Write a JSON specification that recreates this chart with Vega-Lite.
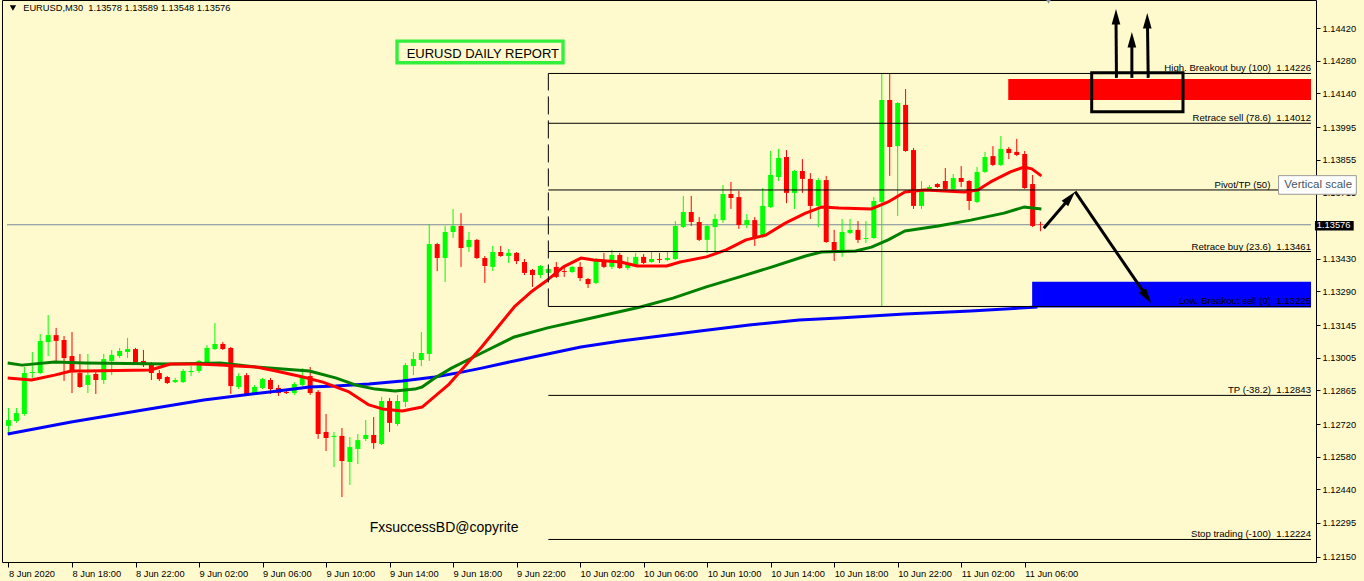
{
  "$schema": "https://vega.github.io/schema/vega-lite/v6.json",
  "width": 1314,
  "height": 562,
  "autosize": {"type": "none"},
  "padding": {"left": 2, "top": 0, "right": 48, "bottom": 19},
  "background": "#fffacd",
  "config": {"view": {"stroke": "#000000", "strokeWidth": 1}},
  "resolve": {"axis": {"x": "independent", "y": "independent"}},
  "datasets": {
    "candles": [
      {"i":0,"o":1.12712,"h":1.12789,"l":1.12677,"c":1.12737},
      {"i":1,"o":1.12733,"h":1.12789,"l":1.12725,"c":1.12767},
      {"i":2,"o":1.12763,"h":1.12965,"l":1.12755,"c":1.12939},
      {"i":3,"o":1.12939,"h":1.13029,"l":1.12918,"c":1.12943},
      {"i":4,"o":1.12939,"h":1.13107,"l":1.12935,"c":1.13077},
      {"i":5,"o":1.13072,"h":1.13188,"l":1.13012,"c":1.13102},
      {"i":6,"o":1.13102,"h":1.13133,"l":1.12986,"c":1.13077},
      {"i":7,"o":1.13081,"h":1.13098,"l":1.12905,"c":1.13004},
      {"i":8,"o":1.13012,"h":1.13115,"l":1.12853,"c":1.12943},
      {"i":9,"o":1.12939,"h":1.13021,"l":1.12875,"c":1.12879},
      {"i":10,"o":1.12888,"h":1.13021,"l":1.12853,"c":1.12930},
      {"i":11,"o":1.12935,"h":1.12943,"l":1.12849,"c":1.12909},
      {"i":12,"o":1.12909,"h":1.13021,"l":1.12892,"c":1.12999},
      {"i":13,"o":1.12991,"h":1.13038,"l":1.12930,"c":1.13017},
      {"i":14,"o":1.13012,"h":1.13047,"l":1.13004,"c":1.13034},
      {"i":15,"o":1.13029,"h":1.13090,"l":1.13004,"c":1.13042},
      {"i":16,"o":1.13042,"h":1.13047,"l":1.12978,"c":1.12982},
      {"i":17,"o":1.12991,"h":1.13038,"l":1.12965,"c":1.12973},
      {"i":18,"o":1.12978,"h":1.12986,"l":1.12909,"c":1.12939},
      {"i":19,"o":1.12939,"h":1.12952,"l":1.12905,"c":1.12913},
      {"i":20,"o":1.12922,"h":1.12926,"l":1.12892,"c":1.12896},
      {"i":21,"o":1.12900,"h":1.12918,"l":1.12896,"c":1.12909},
      {"i":22,"o":1.12900,"h":1.12956,"l":1.12896,"c":1.12948},
      {"i":23,"o":1.12943,"h":1.12969,"l":1.12926,"c":1.12948},
      {"i":24,"o":1.12948,"h":1.12995,"l":1.12939,"c":1.12991},
      {"i":25,"o":1.12986,"h":1.13059,"l":1.12982,"c":1.13047},
      {"i":26,"o":1.13042,"h":1.13154,"l":1.13038,"c":1.13064},
      {"i":27,"o":1.13064,"h":1.13072,"l":1.13038,"c":1.13042},
      {"i":28,"o":1.13047,"h":1.13051,"l":1.12849,"c":1.12883},
      {"i":29,"o":1.12879,"h":1.12939,"l":1.12870,"c":1.12926},
      {"i":30,"o":1.12930,"h":1.12939,"l":1.12845,"c":1.12849},
      {"i":31,"o":1.12853,"h":1.12888,"l":1.12849,"c":1.12879},
      {"i":32,"o":1.12875,"h":1.12918,"l":1.12870,"c":1.12913},
      {"i":33,"o":1.12909,"h":1.12918,"l":1.12849,"c":1.12870},
      {"i":34,"o":1.12875,"h":1.12888,"l":1.12840,"c":1.12853},
      {"i":35,"o":1.12858,"h":1.12866,"l":1.12849,"c":1.12853},
      {"i":36,"o":1.12853,"h":1.12900,"l":1.12845,"c":1.12892},
      {"i":37,"o":1.12888,"h":1.12960,"l":1.12883,"c":1.12922},
      {"i":38,"o":1.12926,"h":1.12965,"l":1.12845,"c":1.12853},
      {"i":39,"o":1.12858,"h":1.12866,"l":1.12656,"c":1.12677},
      {"i":40,"o":1.12686,"h":1.12763,"l":1.12604,"c":1.12660},
      {"i":41,"o":1.12664,"h":1.12686,"l":1.12535,"c":1.12669},
      {"i":42,"o":1.12669,"h":1.12703,"l":1.12406,"c":1.12561},
      {"i":43,"o":1.12557,"h":1.12664,"l":1.12458,"c":1.12621},
      {"i":44,"o":1.12613,"h":1.12677,"l":1.12548,"c":1.12651},
      {"i":45,"o":1.12656,"h":1.12737,"l":1.12647,"c":1.12673},
      {"i":46,"o":1.12673,"h":1.12750,"l":1.12613,"c":1.12638},
      {"i":47,"o":1.12634,"h":1.12836,"l":1.12630,"c":1.12819},
      {"i":48,"o":1.12819,"h":1.12832,"l":1.12686,"c":1.12725},
      {"i":49,"o":1.12720,"h":1.12845,"l":1.12712,"c":1.12819},
      {"i":50,"o":1.12815,"h":1.12982,"l":1.12793,"c":1.12973},
      {"i":51,"o":1.12969,"h":1.13029,"l":1.12930,"c":1.12999},
      {"i":52,"o":1.12995,"h":1.13115,"l":1.12969,"c":1.13025},
      {"i":53,"o":1.13021,"h":1.13579,"l":1.12991,"c":1.13493},
      {"i":54,"o":1.13493,"h":1.13498,"l":1.13377,"c":1.13433},
      {"i":55,"o":1.13433,"h":1.13571,"l":1.13330,"c":1.13545},
      {"i":56,"o":1.13545,"h":1.13644,"l":1.13519,"c":1.13571},
      {"i":57,"o":1.13571,"h":1.13626,"l":1.13395,"c":1.13476},
      {"i":58,"o":1.13480,"h":1.13545,"l":1.13459,"c":1.13511},
      {"i":59,"o":1.13511,"h":1.13515,"l":1.13429,"c":1.13433},
      {"i":60,"o":1.13433,"h":1.13442,"l":1.13326,"c":1.13399},
      {"i":61,"o":1.13395,"h":1.13485,"l":1.13377,"c":1.13459},
      {"i":62,"o":1.13459,"h":1.13485,"l":1.13438,"c":1.13442},
      {"i":63,"o":1.13442,"h":1.13472,"l":1.13412,"c":1.13455},
      {"i":64,"o":1.13455,"h":1.13459,"l":1.13407,"c":1.13420},
      {"i":65,"o":1.13416,"h":1.13429,"l":1.13360,"c":1.13369},
      {"i":66,"o":1.13382,"h":1.13386,"l":1.13309,"c":1.13360},
      {"i":67,"o":1.13360,"h":1.13403,"l":1.13347,"c":1.13399},
      {"i":68,"o":1.13369,"h":1.13390,"l":1.13360,"c":1.13386},
      {"i":69,"o":1.13395,"h":1.13416,"l":1.13347,"c":1.13352},
      {"i":70,"o":1.13377,"h":1.13395,"l":1.13352,"c":1.13373},
      {"i":71,"o":1.13373,"h":1.13399,"l":1.13369,"c":1.13395},
      {"i":72,"o":1.13395,"h":1.13416,"l":1.13334,"c":1.13347},
      {"i":73,"o":1.13343,"h":1.13347,"l":1.13304,"c":1.13321},
      {"i":74,"o":1.13326,"h":1.13433,"l":1.13321,"c":1.13429},
      {"i":75,"o":1.13416,"h":1.13455,"l":1.13390,"c":1.13395},
      {"i":76,"o":1.13395,"h":1.13468,"l":1.13386,"c":1.13446},
      {"i":77,"o":1.13446,"h":1.13455,"l":1.13386,"c":1.13390},
      {"i":78,"o":1.13390,"h":1.13438,"l":1.13382,"c":1.13407},
      {"i":79,"o":1.13403,"h":1.13455,"l":1.13399,"c":1.13438},
      {"i":80,"o":1.13438,"h":1.13450,"l":1.13407,"c":1.13412},
      {"i":81,"o":1.13416,"h":1.13463,"l":1.13412,"c":1.13429},
      {"i":82,"o":1.13429,"h":1.13455,"l":1.13412,"c":1.13425},
      {"i":83,"o":1.13425,"h":1.13459,"l":1.13420,"c":1.13433},
      {"i":84,"o":1.13429,"h":1.13592,"l":1.13425,"c":1.13571},
      {"i":85,"o":1.13566,"h":1.13700,"l":1.13562,"c":1.13631},
      {"i":86,"o":1.13631,"h":1.13700,"l":1.13571,"c":1.13588},
      {"i":87,"o":1.13588,"h":1.13609,"l":1.13506,"c":1.13511},
      {"i":88,"o":1.13511,"h":1.13575,"l":1.13455,"c":1.13571},
      {"i":89,"o":1.13566,"h":1.13622,"l":1.13455,"c":1.13601},
      {"i":90,"o":1.13596,"h":1.13747,"l":1.13584,"c":1.13708},
      {"i":91,"o":1.13708,"h":1.13760,"l":1.13644,"c":1.13691},
      {"i":92,"o":1.13695,"h":1.13721,"l":1.13558,"c":1.13575},
      {"i":93,"o":1.13575,"h":1.13622,"l":1.13562,"c":1.13596},
      {"i":94,"o":1.13596,"h":1.13609,"l":1.13485,"c":1.13523},
      {"i":95,"o":1.13523,"h":1.13734,"l":1.13519,"c":1.13657},
      {"i":96,"o":1.13652,"h":1.13893,"l":1.13648,"c":1.13790},
      {"i":97,"o":1.13781,"h":1.13902,"l":1.13764,"c":1.13863},
      {"i":98,"o":1.13867,"h":1.13897,"l":1.13669,"c":1.13713},
      {"i":99,"o":1.13713,"h":1.13811,"l":1.13644,"c":1.13807},
      {"i":100,"o":1.13807,"h":1.13858,"l":1.13713,"c":1.13773},
      {"i":101,"o":1.13773,"h":1.13798,"l":1.13601,"c":1.13657},
      {"i":102,"o":1.13657,"h":1.13777,"l":1.13566,"c":1.13768},
      {"i":103,"o":1.13768,"h":1.13786,"l":1.13498,"c":1.13502},
      {"i":104,"o":1.13502,"h":1.13554,"l":1.13420,"c":1.13455},
      {"i":105,"o":1.13455,"h":1.13601,"l":1.13438,"c":1.13545},
      {"i":106,"o":1.13541,"h":1.13601,"l":1.13536,"c":1.13554},
      {"i":107,"o":1.13554,"h":1.13592,"l":1.13498,"c":1.13511},
      {"i":108,"o":1.13515,"h":1.13592,"l":1.13498,"c":1.13519},
      {"i":109,"o":1.13519,"h":1.13695,"l":1.13515,"c":1.13678},
      {"i":110,"o":1.13674,"h":1.14226,"l":1.13225,"c":1.14112},
      {"i":111,"o":1.14112,"h":1.14224,"l":1.13786,"c":1.13910},
      {"i":112,"o":1.13914,"h":1.14103,"l":1.13614,"c":1.14099},
      {"i":113,"o":1.14091,"h":1.14159,"l":1.13889,"c":1.13893},
      {"i":114,"o":1.13897,"h":1.13906,"l":1.13644,"c":1.13657},
      {"i":115,"o":1.13657,"h":1.13764,"l":1.13644,"c":1.13721},
      {"i":116,"o":1.13725,"h":1.13747,"l":1.13721,"c":1.13738},
      {"i":117,"o":1.13751,"h":1.13755,"l":1.13734,"c":1.13738},
      {"i":118,"o":1.13764,"h":1.13820,"l":1.13725,"c":1.13730},
      {"i":119,"o":1.13730,"h":1.13794,"l":1.13725,"c":1.13777},
      {"i":120,"o":1.13777,"h":1.13828,"l":1.13738,"c":1.13760},
      {"i":121,"o":1.13764,"h":1.13768,"l":1.13639,"c":1.13678},
      {"i":122,"o":1.13674,"h":1.13824,"l":1.13669,"c":1.13803},
      {"i":123,"o":1.13803,"h":1.13889,"l":1.13798,"c":1.13867},
      {"i":124,"o":1.13871,"h":1.13914,"l":1.13828,"c":1.13833},
      {"i":125,"o":1.13833,"h":1.13957,"l":1.13828,"c":1.13902},
      {"i":126,"o":1.13902,"h":1.13910,"l":1.13858,"c":1.13884},
      {"i":127,"o":1.13889,"h":1.13945,"l":1.13871,"c":1.13876},
      {"i":128,"o":1.13880,"h":1.13893,"l":1.13730,"c":1.13734},
      {"i":129,"o":1.13751,"h":1.13790,"l":1.13566,"c":1.13571},
      {"i":130,"o":1.13578,"h":1.13589,"l":1.13548,"c":1.13576}
    ],
    "maSlow": [
      {"i":-0.1,"v":1.12677},{"i":7.9,"v":1.12729},{"i":16.2,"v":1.12776},{"i":24.6,"v":1.12823},
      {"i":32.9,"v":1.12858},{"i":37.9,"v":1.12879},{"i":41.2,"v":1.12883},{"i":45.4,"v":1.12892},
      {"i":49.6,"v":1.12905},{"i":53.7,"v":1.12922},{"i":57.1,"v":1.12943},{"i":59.6,"v":1.12960},
      {"i":63.7,"v":1.12991},{"i":67.9,"v":1.13021},{"i":72.1,"v":1.13051},{"i":77.1,"v":1.13077},
      {"i":82.1,"v":1.13098},{"i":87.1,"v":1.13120},{"i":93.3,"v":1.13145},{"i":99.6,"v":1.13167},
      {"i":104.6,"v":1.13175},{"i":112.9,"v":1.13193},{"i":121.2,"v":1.13205},{"i":129.6,"v":1.13223}
    ],
    "maMedium": [
      {"i":-0.1,"v":1.12982},{"i":1.7,"v":1.12973},{"i":5.8,"v":1.12986},{"i":9.6,"v":1.12982},
      {"i":20.4,"v":1.12978},{"i":26.7,"v":1.12982},{"i":31.2,"v":1.12965},{"i":36.2,"v":1.12952},
      {"i":37.9,"v":1.12948},{"i":41.2,"v":1.12918},{"i":43.7,"v":1.12888},{"i":46.2,"v":1.12870},
      {"i":48.7,"v":1.12862},{"i":51.2,"v":1.12870},{"i":52.1,"v":1.12879},{"i":53.7,"v":1.12918},
      {"i":55.8,"v":1.12960},{"i":59.6,"v":1.13025},{"i":63.7,"v":1.13094},{"i":67.9,"v":1.13133},
      {"i":72.9,"v":1.13171},{"i":79.6,"v":1.13223},{"i":83.7,"v":1.13261},{"i":87.9,"v":1.13309},
      {"i":92.1,"v":1.13352},{"i":96.2,"v":1.13395},{"i":100.4,"v":1.13442},{"i":102.4,"v":1.13459},
      {"i":106.7,"v":1.13463},{"i":108.7,"v":1.13480},{"i":110.8,"v":1.13511},{"i":112.9,"v":1.13549},
      {"i":117.1,"v":1.13571},{"i":121.2,"v":1.13596},{"i":125.4,"v":1.13626},{"i":127.9,"v":1.13652},
      {"i":130.1,"v":1.13644}
    ],
    "maFast": [
      {"i":-0.1,"v":1.12918},{"i":2.9,"v":1.12909},{"i":5.8,"v":1.12930},{"i":7.9,"v":1.12948},
      {"i":9.6,"v":1.12948},{"i":17.9,"v":1.12952},{"i":20.4,"v":1.12978},{"i":23.7,"v":1.12978},
      {"i":26.7,"v":1.12973},{"i":28.7,"v":1.12969},{"i":31.2,"v":1.12965},{"i":33.7,"v":1.12948},
      {"i":37.1,"v":1.12922},{"i":39.6,"v":1.12900},{"i":42.9,"v":1.12858},{"i":45.4,"v":1.12802},
      {"i":47.1,"v":1.12785},{"i":49.6,"v":1.12776},{"i":52.1,"v":1.12793},{"i":55.4,"v":1.12888},
      {"i":59.6,"v":1.13051},{"i":63.7,"v":1.13223},{"i":65.8,"v":1.13287},{"i":67.9,"v":1.13339},
      {"i":69.9,"v":1.13395},{"i":72.1,"v":1.13433},{"i":73.7,"v":1.13425},{"i":77.1,"v":1.13416},
      {"i":79.2,"v":1.13399},{"i":82.9,"v":1.13399},{"i":84.6,"v":1.13416},{"i":87.9,"v":1.13438},
      {"i":90.4,"v":1.13468},{"i":92.9,"v":1.13511},{"i":95.4,"v":1.13532},{"i":97.9,"v":1.13584},
      {"i":100.4,"v":1.13626},{"i":102.4,"v":1.13652},{"i":104.6,"v":1.13648},{"i":108.7,"v":1.13644},
      {"i":110.8,"v":1.13674},{"i":112.9,"v":1.13717},{"i":115.4,"v":1.13725},{"i":120.4,"v":1.13717},
      {"i":122.1,"v":1.13725},{"i":123.7,"v":1.13760},{"i":126.2,"v":1.13803},{"i":127.9,"v":1.13824},
      {"i":128.9,"v":1.13816},{"i":130.1,"v":1.13786}
    ],
    "fib": [
      {"i":68,"i2":164.0625,"p":1.14226,"label":"High. Breakout buy (100)\u00a0\u00a01.14226"},
      {"i":68,"i2":164.0625,"p":1.14012,"label":"Retrace sell (78.6)\u00a0\u00a01.14012"},
      {"i":68,"i2":164.0625,"p":1.137255,"label":"Pivot/TP (50)"},
      {"i":68,"i2":164.0625,"p":1.13461,"label":"Retrace buy (23.6)\u00a0\u00a01.13461"},
      {"i":68,"i2":164.0625,"p":1.13225,"label":"Low. Breakout sell (0)\u00a0\u00a01.13225"},
      {"i":68,"i2":164.0625,"p":1.12843,"label":"TP (-38.2)\u00a0\u00a01.12843"},
      {"i":68,"i2":164.0625,"p":1.12224,"label":"Stop trading (-100)\u00a0\u00a01.12224"}
    ],
    "zones": [
      {"zone":"sell","i":125.93,"i2":164.0625,"p":1.14202,"p2":1.14112},
      {"zone":"buy","i":128.94,"i2":164.0625,"p":1.13331,"p2":1.13221}
    ],
    "shafts": [
      {"i":139.56,"p":1.14207,"i2":139.5,"p2":1.14469},
      {"i":141.5,"p":1.14207,"i2":141.5,"p2":1.14370},
      {"i":143.56,"p":1.14207,"i2":143.46,"p2":1.14451},
      {"i":130.4,"p":1.13561,"i2":133.7,"p2":1.13692},
      {"i":134.35,"p":1.13718,"i2":143.38,"p2":1.13267}
    ],
    "heads": [
      {"arrow":"up","i":139.5,"p":1.14503},
      {"arrow":"up","i":141.5,"p":1.14404},
      {"arrow":"up","i":143.44,"p":1.14486},
      {"arrow":"A","i":134.35,"p":1.13718},
      {"arrow":"B","i":143.94,"p":1.13239}
    ]
  },
  "layer": [
    {
      "data": {"values": [{"i":-0.1875,"i2":164.0625,"p":1.13576}]},
      "mark": {"type": "rule", "color": "#778899", "strokeWidth": 1},
      "encoding": {
        "x": {"field": "i", "type": "quantitative", "scale": {"domain": [-0.1875, 164.0625], "nice": false, "zero": false},
          "axis": {"orient": "bottom", "values": [0,8,16,24,32,40,48,56,64,72,80,88,96,104,112,120,128],
            "labelExpr": "['8 Jun 2020','8 Jun 18:00','8 Jun 22:00','9 Jun 02:00','9 Jun 06:00','9 Jun 10:00','9 Jun 14:00','9 Jun 18:00','9 Jun 22:00','10 Jun 02:00','10 Jun 06:00','10 Jun 10:00','10 Jun 14:00','10 Jun 18:00','10 Jun 22:00','11 Jun 02:00','11 Jun 06:00'][round(datum.value/8)]",
            "labelAlign": "left", "labelBaseline": "top", "labelPadding": 2, "tickSize": 5, "tickColor": "#000000",
            "labelColor": "#000000", "labelFont": "Liberation Sans", "labelFontSize": 9.3, "domain": false, "grid": false,
            "title": null, "labelFlush": false, "labelOverlap": false, "labelBound": false}},
        "x2": {"field": "i2"},
        "y": {"field": "p", "type": "quantitative", "scale": {"domain": [1.121272, 1.145416], "nice": false, "zero": false},
          "axis": {"orient": "right", "values": [1.1442,1.1428,1.1414,1.13995,1.13855,1.13715,1.1343,1.1329,1.13145,1.13005,1.12865,1.1272,1.1258,1.1244,1.12295,1.1215],
            "format": ".5f", "tickSize": 4, "labelPadding": 2, "labelFont": "Liberation Sans", "labelFontSize": 9.3,
            "labelColor": "#000000", "tickColor": "#000000", "domain": false, "grid": false, "title": null,
            "labelOverlap": false, "labelFlush": false, "labelBound": false}}
      }
    },
    {
      "data": {"name": "zones"},
      "mark": {"type": "rect", "strokeWidth": 0},
      "encoding": {
        "x": {"field": "i", "type": "quantitative", "scale": {"domain": [-0.1875, 164.0625], "nice": false, "zero": false}, "axis": null},
        "x2": {"field": "i2"},
        "y": {"field": "p", "type": "quantitative", "scale": {"domain": [1.121272, 1.145416], "nice": false, "zero": false}, "axis": null},
        "y2": {"field": "p2"},
        "color": {"field": "zone", "type": "nominal", "scale": {"domain": ["sell", "buy"], "range": ["#ff0000", "#0000ff"]}, "legend": null}
      }
    },
    {
      "data": {"name": "candles"},
      "mark": {"type": "rule", "strokeWidth": 1},
      "encoding": {
        "x": {"field": "i", "type": "quantitative", "scale": {"domain": [-0.1875, 164.0625], "nice": false, "zero": false}, "axis": null},
        "y": {"field": "l", "type": "quantitative", "scale": {"domain": [1.121272, 1.145416], "nice": false, "zero": false}, "axis": null},
        "y2": {"field": "h"},
        "color": {"condition": {"test": "datum.c >= datum.o", "value": "#00ff00"}, "value": "#ff0000"}
      }
    },
    {
      "data": {"name": "candles"},
      "mark": {"type": "bar", "size": 5, "strokeWidth": 0},
      "encoding": {
        "x": {"field": "i", "type": "quantitative", "scale": {"domain": [-0.1875, 164.0625], "nice": false, "zero": false}, "axis": null},
        "y": {"field": "o", "type": "quantitative", "scale": {"domain": [1.121272, 1.145416], "nice": false, "zero": false}, "axis": null},
        "y2": {"field": "c"},
        "color": {"condition": {"test": "datum.c >= datum.o", "value": "#00ff00"}, "value": "#ff0000"}
      }
    },
    {
      "data": {"name": "maSlow"},
      "mark": {"type": "line", "color": "#0000ff", "strokeWidth": 3, "strokeJoin": "round"},
      "encoding": {
        "x": {"field": "i", "type": "quantitative", "scale": {"domain": [-0.1875, 164.0625], "nice": false, "zero": false}, "axis": null},
        "y": {"field": "v", "type": "quantitative", "scale": {"domain": [1.121272, 1.145416], "nice": false, "zero": false}, "axis": null}
      }
    },
    {
      "data": {"name": "maMedium"},
      "mark": {"type": "line", "color": "#008000", "strokeWidth": 3, "strokeJoin": "round"},
      "encoding": {
        "x": {"field": "i", "type": "quantitative", "scale": {"domain": [-0.1875, 164.0625], "nice": false, "zero": false}, "axis": null},
        "y": {"field": "v", "type": "quantitative", "scale": {"domain": [1.121272, 1.145416], "nice": false, "zero": false}, "axis": null}
      }
    },
    {
      "data": {"name": "maFast"},
      "mark": {"type": "line", "color": "#ff0000", "strokeWidth": 3, "strokeJoin": "round"},
      "encoding": {
        "x": {"field": "i", "type": "quantitative", "scale": {"domain": [-0.1875, 164.0625], "nice": false, "zero": false}, "axis": null},
        "y": {"field": "v", "type": "quantitative", "scale": {"domain": [1.121272, 1.145416], "nice": false, "zero": false}, "axis": null}
      }
    },
    {
      "data": {"name": "fib"},
      "mark": {"type": "rule", "color": "#000000", "strokeWidth": 1},
      "encoding": {
        "x": {"field": "i", "type": "quantitative", "scale": {"domain": [-0.1875, 164.0625], "nice": false, "zero": false}, "axis": null},
        "x2": {"field": "i2"},
        "y": {"field": "p", "type": "quantitative", "scale": {"domain": [1.121272, 1.145416], "nice": false, "zero": false}, "axis": null}
      }
    },
    {
      "data": {"values": [{"i": 68, "p": 1.13225, "p2": 1.14226}]},
      "mark": {"type": "rule", "color": "#000000", "strokeWidth": 1, "strokeDash": [18, 6]},
      "encoding": {
        "x": {"field": "i", "type": "quantitative", "scale": {"domain": [-0.1875, 164.0625], "nice": false, "zero": false}, "axis": null},
        "y": {"field": "p", "type": "quantitative", "scale": {"domain": [1.121272, 1.145416], "nice": false, "zero": false}, "axis": null},
        "y2": {"field": "p2"}
      }
    },
    {
      "data": {"name": "fib"},
      "transform": [{"filter": "datum.label != 'Pivot/TP (50)'"}],
      "mark": {"type": "text", "align": "right", "baseline": "alphabetic", "dx": 0, "dy": -2, "font": "Liberation Sans", "fontSize": 9.6, "color": "#000000"},
      "encoding": {
        "x": {"field": "i2", "type": "quantitative", "scale": {"domain": [-0.1875, 164.0625], "nice": false, "zero": false}, "axis": null},
        "y": {"field": "p", "type": "quantitative", "scale": {"domain": [1.121272, 1.145416], "nice": false, "zero": false}, "axis": null},
        "text": {"field": "label"}
      }
    },
    {
      "data": {"values": [{"i": 158.94, "p": 1.137255, "label": "Pivot/TP (50)"}]},
      "mark": {"type": "text", "align": "right", "baseline": "alphabetic", "dy": -2, "font": "Liberation Sans", "fontSize": 9.6, "color": "#000000"},
      "encoding": {
        "x": {"field": "i", "type": "quantitative", "scale": {"domain": [-0.1875, 164.0625], "nice": false, "zero": false}, "axis": null},
        "y": {"field": "p", "type": "quantitative", "scale": {"domain": [1.121272, 1.145416], "nice": false, "zero": false}, "axis": null},
        "text": {"field": "label"}
      }
    },
    {
      "data": {"values": [{"i": 136.44, "i2": 147.94, "p": 1.14229, "p2": 1.14062}]},
      "mark": {"type": "rect", "filled": false, "stroke": "#000000", "strokeWidth": 3},
      "encoding": {
        "x": {"field": "i", "type": "quantitative", "scale": {"domain": [-0.1875, 164.0625], "nice": false, "zero": false}, "axis": null},
        "x2": {"field": "i2"},
        "y": {"field": "p", "type": "quantitative", "scale": {"domain": [1.121272, 1.145416], "nice": false, "zero": false}, "axis": null},
        "y2": {"field": "p2"}
      }
    },
    {
      "data": {"name": "shafts"},
      "mark": {"type": "rule", "color": "#000000", "strokeWidth": 3},
      "encoding": {
        "x": {"field": "i", "type": "quantitative", "scale": {"domain": [-0.1875, 164.0625], "nice": false, "zero": false}, "axis": null},
        "x2": {"field": "i2"},
        "y": {"field": "p", "type": "quantitative", "scale": {"domain": [1.121272, 1.145416], "nice": false, "zero": false}, "axis": null},
        "y2": {"field": "p2"}
      }
    },
    {
      "data": {"name": "heads"},
      "transform": [{"filter": "datum.arrow == 'up'"}],
      "mark": {"type": "point", "shape": "M0,0L0.5,1.8L-0.5,1.8Z", "size": 300, "filled": true, "color": "#000000", "opacity": 1, "angle": 0},
      "encoding": {
        "x": {"field": "i", "type": "quantitative", "scale": {"domain": [-0.1875, 164.0625], "nice": false, "zero": false}, "axis": null},
        "y": {"field": "p", "type": "quantitative", "scale": {"domain": [1.121272, 1.145416], "nice": false, "zero": false}, "axis": null}
      }
    },
    {
      "data": {"name": "heads"},
      "transform": [{"filter": "datum.arrow == 'A'"}],
      "mark": {"type": "point", "shape": "M0,0L0.5,1.8L-0.5,1.8Z", "size": 300, "filled": true, "color": "#000000", "opacity": 1, "angle": 41},
      "encoding": {
        "x": {"field": "i", "type": "quantitative", "scale": {"domain": [-0.1875, 164.0625], "nice": false, "zero": false}, "axis": null},
        "y": {"field": "p", "type": "quantitative", "scale": {"domain": [1.121272, 1.145416], "nice": false, "zero": false}, "axis": null}
      }
    },
    {
      "data": {"name": "heads"},
      "transform": [{"filter": "datum.arrow == 'B'"}],
      "mark": {"type": "point", "shape": "M0,0L0.5,1.8L-0.5,1.8Z", "size": 300, "filled": true, "color": "#000000", "opacity": 1, "angle": 145.5},
      "encoding": {
        "x": {"field": "i", "type": "quantitative", "scale": {"domain": [-0.1875, 164.0625], "nice": false, "zero": false}, "axis": null},
        "y": {"field": "p", "type": "quantitative", "scale": {"domain": [1.121272, 1.145416], "nice": false, "zero": false}, "axis": null}
      }
    },
    {
      "data": {"values": [{"i": 48.94, "i2": 69.85, "p": 1.14365, "p2": 1.14272}]},
      "mark": {"type": "rect", "filled": false, "stroke": "#33f03c", "strokeWidth": 3.4},
      "encoding": {
        "x": {"field": "i", "type": "quantitative", "scale": {"domain": [-0.1875, 164.0625], "nice": false, "zero": false}, "axis": null},
        "x2": {"field": "i2"},
        "y": {"field": "p", "type": "quantitative", "scale": {"domain": [1.121272, 1.145416], "nice": false, "zero": false}, "axis": null},
        "y2": {"field": "p2"}
      }
    },
    {
      "data": {"values": [{"i": 59.75, "p": 1.14294, "text": "EURUSD DAILY REPORT"}]},
      "mark": {"type": "text", "align": "center", "baseline": "alphabetic", "font": "Liberation Sans", "fontSize": 13, "color": "#000000"},
      "encoding": {
        "x": {"field": "i", "type": "quantitative", "scale": {"domain": [-0.1875, 164.0625], "nice": false, "zero": false}, "axis": null},
        "y": {"field": "p", "type": "quantitative", "scale": {"domain": [1.121272, 1.145416], "nice": false, "zero": false}, "axis": null},
        "text": {"field": "text"}
      }
    },
    {
      "data": {"values": [{"i": 54.87, "p": 1.12257, "text": "FxsuccessBD@copyrite"}]},
      "mark": {"type": "text", "align": "center", "baseline": "alphabetic", "font": "Liberation Sans", "fontSize": 14, "color": "#000000"},
      "encoding": {
        "x": {"field": "i", "type": "quantitative", "scale": {"domain": [-0.1875, 164.0625], "nice": false, "zero": false}, "axis": null},
        "y": {"field": "p", "type": "quantitative", "scale": {"domain": [1.121272, 1.145416], "nice": false, "zero": false}, "axis": null},
        "text": {"field": "text"}
      }
    },
    {
      "data": {"values": [{"i": 1.85, "p": 1.14494, "text": "EURUSD,M30\u00a0\u00a01.13578 1.13589 1.13548 1.13576"}]},
      "mark": {"type": "text", "align": "left", "baseline": "alphabetic", "font": "Liberation Sans", "fontSize": 9.3, "color": "#000000"},
      "encoding": {
        "x": {"field": "i", "type": "quantitative", "scale": {"domain": [-0.1875, 164.0625], "nice": false, "zero": false}, "axis": null},
        "y": {"field": "p", "type": "quantitative", "scale": {"domain": [1.121272, 1.145416], "nice": false, "zero": false}, "axis": null},
        "text": {"field": "text"}
      }
    },
    {
      "data": {"values": [{"i": 0.56, "p": 1.14507}, {"i": 131.0, "p": 1.14537}]},
      "mark": {"type": "point", "shape": "triangle-down", "size": 40, "filled": true, "opacity": 1},
      "encoding": {
        "x": {"field": "i", "type": "quantitative", "scale": {"domain": [-0.1875, 164.0625], "nice": false, "zero": false}, "axis": null},
        "y": {"field": "p", "type": "quantitative", "scale": {"domain": [1.121272, 1.145416], "nice": false, "zero": false}, "axis": null},
        "color": {"condition": {"test": "datum.i > 100", "value": "#8c9aa8"}, "value": "#000000"}
      }
    },
    {
      "data": {"values": [{"i": 159.98, "i2": 169.77, "p": 1.13787, "p2": 1.13707}]},
      "mark": {"type": "rect", "fill": "#ffffff", "stroke": "#9a9a9a", "strokeWidth": 1},
      "encoding": {
        "x": {"field": "i", "type": "quantitative", "scale": {"domain": [-0.1875, 164.0625], "nice": false, "zero": false}, "axis": null},
        "x2": {"field": "i2"},
        "y": {"field": "p", "type": "quantitative", "scale": {"domain": [1.121272, 1.145416], "nice": false, "zero": false}, "axis": null},
        "y2": {"field": "p2"}
      }
    },
    {
      "data": {"values": [{"i": 160.7, "p": 1.137468, "text": "Vertical scale"}]},
      "mark": {"type": "text", "align": "left", "baseline": "middle", "font": "Liberation Sans", "fontSize": 11.5, "color": "#475563"},
      "encoding": {
        "x": {"field": "i", "type": "quantitative", "scale": {"domain": [-0.1875, 164.0625], "nice": false, "zero": false}, "axis": null},
        "y": {"field": "p", "type": "quantitative", "scale": {"domain": [1.121272, 1.145416], "nice": false, "zero": false}, "axis": null},
        "text": {"field": "text"}
      }
    },
    {
      "data": {"values": [{"i": 164.56, "i2": 169.44, "p": 1.13592, "p2": 1.13551}]},
      "mark": {"type": "rect", "fill": "#000000", "strokeWidth": 0},
      "encoding": {
        "x": {"field": "i", "type": "quantitative", "scale": {"domain": [-0.1875, 164.0625], "nice": false, "zero": false}, "axis": null},
        "x2": {"field": "i2"},
        "y": {"field": "p", "type": "quantitative", "scale": {"domain": [1.121272, 1.145416], "nice": false, "zero": false}, "axis": null},
        "y2": {"field": "p2"}
      }
    },
    {
      "data": {"values": [{"i": 164.8, "p": 1.13573, "text": "1.13576"}]},
      "mark": {"type": "text", "align": "left", "baseline": "middle", "font": "Liberation Sans", "fontSize": 9.3, "color": "#ffffff"},
      "encoding": {
        "x": {"field": "i", "type": "quantitative", "scale": {"domain": [-0.1875, 164.0625], "nice": false, "zero": false}, "axis": null},
        "y": {"field": "p", "type": "quantitative", "scale": {"domain": [1.121272, 1.145416], "nice": false, "zero": false}, "axis": null},
        "text": {"field": "text"}
      }
    }
  ]
}
